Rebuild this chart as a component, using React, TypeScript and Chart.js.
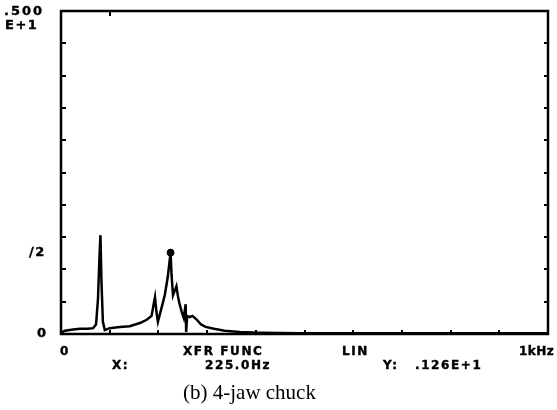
import React, { useEffect, useRef } from "react";
import { Chart, registerables } from "chart.js";

Chart.register(...registerables);

// Frequency axis (Hz) and transfer-function magnitude
const freqHz = [
  0, 8, 25, 39, 55, 66, 72, 76, 79, 81, 83, 86, 90, 100, 121, 141, 162, 176, 186, 190,
  193, 196, 199, 207, 213, 219, 225, 227, 230, 234, 237, 240, 243, 248, 252, 256, 257,
  259, 264, 270, 279, 287, 297, 314, 336, 367, 408, 490, 600, 800, 1000,
];
const amplitude = [
  0.02, 0.05, 0.07, 0.08, 0.08, 0.09, 0.15, 0.55, 1.2, 1.53, 0.84, 0.19, 0.06, 0.09, 0.11,
  0.12, 0.17, 0.22, 0.28, 0.45, 0.57, 0.34, 0.19, 0.42, 0.6, 0.87, 1.26, 0.91, 0.6, 0.68,
  0.74, 0.59, 0.48, 0.34, 0.25, 0.46, 0.03, 0.28, 0.26, 0.28, 0.22, 0.15, 0.11, 0.08, 0.05,
  0.03, 0.02, 0.01, 0.01, 0.01, 0.01,
];
const cursorHz = [225];
const cursorValue = [1.26];

const xMin = 0;
const xMax = 1000;
const xStep = 100;
const yMin = 0;
const yMax = 5;
const yStep = 0.5;
const topTickHz = [100];

const W = 557;
const H = 410;

const framePlugin = {
  id: "frame",
  afterDatasetsDraw(chart: any) {
    const { ctx, chartArea, scales } = chart;
    const { left, right, top, bottom } = chartArea;
    ctx.save();
    ctx.strokeStyle = "#000";
    ctx.lineWidth = 2.5;
    ctx.strokeRect(left, top, right - left, bottom - top);
    ctx.lineWidth = 2;
    ctx.beginPath();
    for (let v = yMin + yStep; v < yMax - 1e-9; v += yStep) {
      const py = Math.round(scales.y.getPixelForValue(v));
      ctx.moveTo(left, py);
      ctx.lineTo(left + 5, py);
      ctx.moveTo(right, py);
      ctx.lineTo(right - 4, py);
    }
    for (let v = xMin + xStep; v < xMax - 1e-9; v += xStep) {
      const px = Math.round(scales.x.getPixelForValue(v));
      ctx.moveTo(px, bottom);
      ctx.lineTo(px, bottom - 4);
    }
    for (const v of topTickHz) {
      const px = Math.round(scales.x.getPixelForValue(v));
      ctx.moveTo(px, top);
      ctx.lineTo(px, top + 5);
    }
    ctx.stroke();
    ctx.restore();
  },
};

const label = (text: string, left: number, top: number, extra: any = {}) => (
  <span
    style={{
      position: "absolute",
      left,
      top,
      font: "bold 12px 'DejaVu Sans', sans-serif",
      letterSpacing: "1.6px",
      color: "#000",
      whiteSpace: "pre",
      lineHeight: "14px",
      WebkitTextStroke: "0.4px #000",
      ...extra,
    }}
  >
    {text}
  </span>
);

export default function App() {
  const canvasRef = useRef<HTMLCanvasElement | null>(null);

  useEffect(() => {
    const canvas = canvasRef.current;
    if (!canvas) return;
    const chart = new Chart(canvas, {
      type: "line",
      data: {
        datasets: [
          {
            data: freqHz.map((f, i) => ({ x: f, y: amplitude[i] })),
            borderColor: "#000",
            borderWidth: 2.5,
            pointRadius: 0,
            tension: 0,
          },
          {
            data: cursorHz.map((f, i) => ({ x: f, y: cursorValue[i] })),
            borderColor: "#000",
            backgroundColor: "#000",
            pointRadius: 3.5,
            showLine: false,
          },
        ],
      },
      options: {
        responsive: false,
        animation: false,
        layout: { padding: { left: 61, top: 11, right: 9, bottom: 76 } },
        plugins: { legend: { display: false }, tooltip: { enabled: false } },
        scales: {
          x: { type: "linear", min: xMin, max: xMax, display: false },
          y: { type: "linear", min: yMin, max: yMax, display: false, ticks: { stepSize: yStep } },
        },
      },
      plugins: [framePlugin],
    });
    return () => chart.destroy();
  }, []);

  return (
    <div style={{ position: "absolute", left: 0, top: 0, width: W, height: H, background: "#fff" }}>
      <canvas ref={canvasRef} width={W} height={H} style={{ display: "block" }} />
      {label(".500", 4, 4, { fontSize: "13px", letterSpacing: "2px" })}
      {label("E+1", 5, 18, { fontSize: "13px", letterSpacing: "1.5px" })}
      {label("/2", 29, 245, { fontSize: "13px" })}
      {label("0", 37, 326, { fontSize: "13px" })}
      {label("0", 60, 344)}
      {label("XFR FUNC", 183, 344)}
      {label("LIN", 342, 344)}
      {label("1kHz", 519, 344, { letterSpacing: "0.5px" })}
      {label("X:", 112, 358)}
      {label("225.0Hz", 205, 358)}
      {label("Y:", 383, 358)}
      {label(".126E+1", 415, 358)}
      <span
        style={{
          position: "absolute",
          left: 183,
          top: 380,
          font: "21px 'Liberation Serif', 'DejaVu Serif', serif",
          color: "#000",
          whiteSpace: "pre",
        }}
      >
        (b) 4-jaw chuck
      </span>
    </div>
  );
}
